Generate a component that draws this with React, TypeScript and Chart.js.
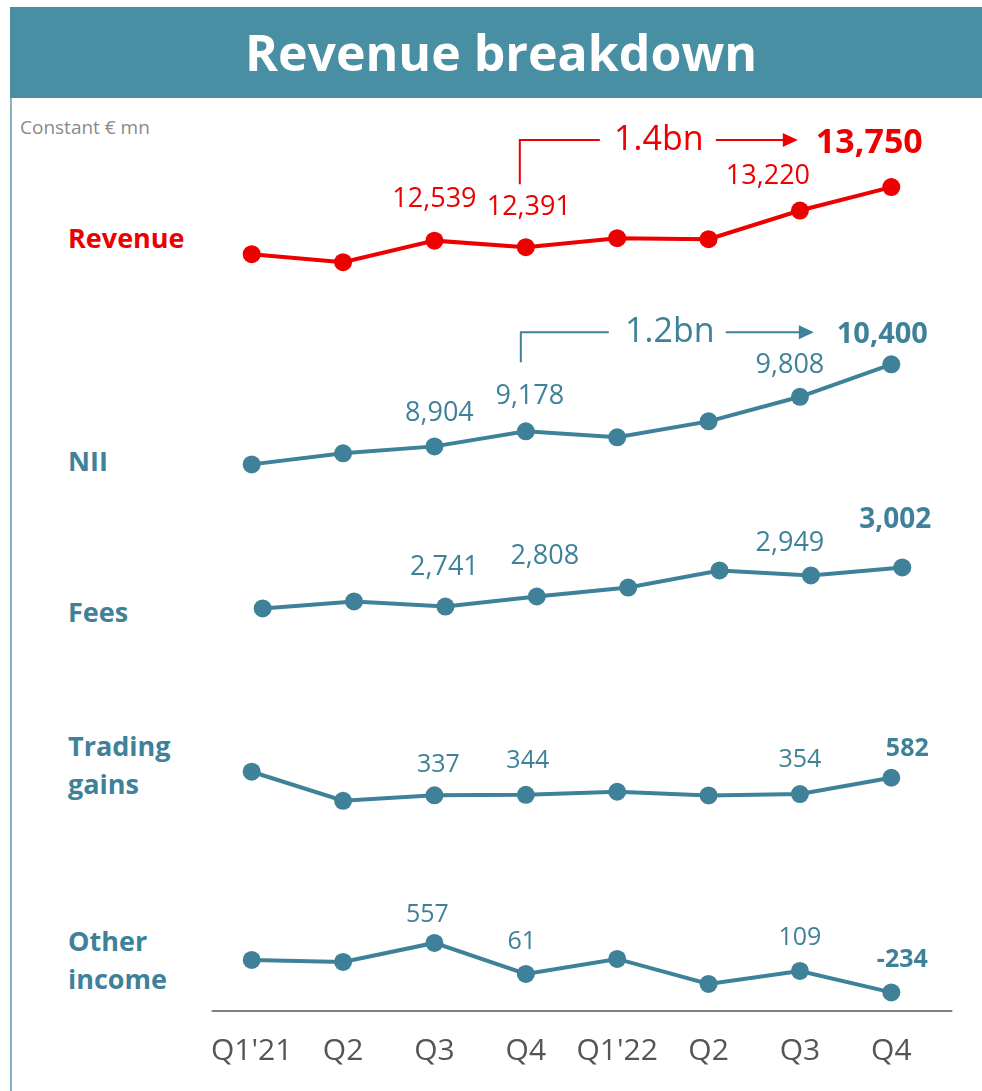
import React, { useEffect, useRef } from "react";
import { Chart, registerables } from "chart.js";

Chart.register(...registerables);

const quarters = ["Q1'21", "Q2", "Q3", "Q4", "Q1'22", "Q2", "Q3", "Q4"];
const revenue = [12232, 12051, 12539, 12391, 12595, 12572, 13220, 13750];
const nii = [8576, 8777, 8904, 9178, 9069, 9360, 9808, 10400];
const fees = [2728, 2775, 2741, 2808, 2868, 2982, 2949, 3002];
const tradingGains = [666, 260, 337, 344, 386, 335, 354, 582];
const otherIncome = [285, 253, 557, 61, 301, -99, 109, -234];
const labelledPoints = [2, 3, 6, 7];
const revenueGrowth = "1.4bn";
const niiGrowth = "1.2bn";

const RED = "#EC0000";
const TEAL = "#3E8199";
const HEADER = "#488FA4";
const FONT = "'Open Sans', 'Noto Sans', sans-serif";

const fmt = (v: number) => v.toLocaleString("en-US");

type LabelCfg = {
  ds: number;
  color: string;
  offsets: number[][];
  size: number;
  boldSize: number;
};

const labelCfgs: LabelCfg[] = [
  { ds: 0, color: RED, offsets: [[0, -41], [3, -40], [-32, -34], [-22, -44]], size: 27, boldSize: 34 },
  { ds: 1, color: TEAL, offsets: [[5, -33], [4, -35], [-10, -31], [-9, -30]], size: 27, boldSize: 29 },
  { ds: 2, color: TEAL, offsets: [[-1, -39], [8, -40], [-21, -32], [-7, -47]], size: 27, boldSize: 28 },
  { ds: 3, color: TEAL, offsets: [[4, -30], [2, -34], [0, -34], [16, -29]], size: 25, boldSize: 25 },
  { ds: 4, color: TEAL, offsets: [[-7, -28], [-4, -32], [0, -33], [11, -33]], size: 25, boldSize: 25 },
];

const overlayPlugin = {
  id: "overlay",
  afterDatasetsDraw(chart: any) {
    const ctx = chart.ctx;
    ctx.save();
    ctx.textAlign = "center";
    ctx.textBaseline = "middle";
    for (const cfg of labelCfgs) {
      const meta = chart.getDatasetMeta(cfg.ds);
      const data = chart.data.datasets[cfg.ds].data as any[];
      labelledPoints.forEach((idx, k) => {
        const el = meta.data[idx];
        const raw = data[idx];
        const v = typeof raw === "number" ? raw : raw.y;
        const bold = k === labelledPoints.length - 1;
        ctx.font = `${bold ? "bold " : ""}${bold ? cfg.boldSize : cfg.size}px ${FONT}`;
        ctx.fillStyle = cfg.color;
        ctx.fillText(fmt(v), el.x + cfg.offsets[k][0], el.y + cfg.offsets[k][1]);
      });
    }

    const bracket = (ds: number, color: string, text: string, dx: number, vBottom: number, yOff: number, hEnd: number, tx: number, aStart: number, aEnd: number) => {
      const meta = chart.getDatasetMeta(ds);
      const p3 = meta.data[3];
      const p7 = meta.data[7];
      const x0 = p3.x + dx;
      const yTop = p7.y + yOff;
      ctx.strokeStyle = color;
      ctx.fillStyle = color;
      ctx.lineWidth = 2;
      ctx.beginPath();
      ctx.moveTo(x0, p3.y + vBottom);
      ctx.lineTo(x0, yTop);
      ctx.lineTo(x0 + hEnd, yTop);
      ctx.stroke();
      ctx.font = `34px ${FONT}`;
      ctx.fillText(text, x0 + tx, yTop);
      ctx.beginPath();
      ctx.moveTo(x0 + aStart, yTop);
      ctx.lineTo(x0 + aEnd - 12, yTop);
      ctx.stroke();
      ctx.beginPath();
      ctx.moveTo(x0 + aEnd, yTop);
      ctx.lineTo(x0 + aEnd - 15, yTop - 7);
      ctx.lineTo(x0 + aEnd - 15, yTop + 7);
      ctx.closePath();
      ctx.fill();
    };
    bracket(0, RED, revenueGrowth, -6, -63, -47, 80, 139, 196, 278);
    bracket(1, TEAL, niiGrowth, -5, -69, -32, 88, 149, 205, 293);

    // baseline axis
    const xs = chart.scales.x;
    const y = chart.chartArea.bottom;
    ctx.strokeStyle = "#808080";
    ctx.lineWidth = 2;
    ctx.beginPath();
    ctx.moveTo(xs.getPixelForValue(0) - 40, y);
    ctx.lineTo(xs.getPixelForValue(7) + 61, y);
    ctx.stroke();
    ctx.restore();
  },
};

export default function App() {
  const ref = useRef<HTMLCanvasElement>(null);

  useEffect(() => {
    if (!ref.current) return;
    const line = (label: string, data: any[], color: string, yAxisID: string, xAxisID = "x") => ({
      label,
      data,
      borderColor: color,
      backgroundColor: color,
      pointBackgroundColor: color,
      pointBorderColor: color,
      borderWidth: 4,
      pointRadius: 9,
      pointBorderWidth: 0,
      tension: 0,
      yAxisID,
      xAxisID,
    });
    const hiddenY = (min: number, max: number) => ({ type: "linear" as const, display: false, min, max });
    const chart = new Chart(ref.current, {
      type: "line",
      data: {
        labels: quarters,
        datasets: [
          line("Revenue", revenue, RED, "yR"),
          line("NII", nii, TEAL, "yN"),
          line("Fees", fees.map((v, i) => ({ x: i, y: v })), TEAL, "yF", "xF"),
          line("Trading gains", tradingGains, TEAL, "yT"),
          line("Other income", otherIncome, TEAL, "yO"),
        ],
      },
      options: {
        animation: false,
        responsive: false,
        devicePixelRatio: 1,
        layout: { padding: { left: 206, right: 45, top: 100, bottom: 0 } },
        plugins: { legend: { display: false }, tooltip: { enabled: false } },
        scales: {
          x: {
            type: "category",
            offset: true,
            grid: { display: false, drawTicks: false },
            border: { display: false },
            ticks: { font: { family: FONT, size: 30 }, color: "#555555", padding: 22, maxRotation: 0 },
          },
          xF: { type: "linear", display: false, min: -0.62, max: 7.38 },
          yR: hiddenY(-4891, 15721),
          yN: hiddenY(-1383, 15215),
          yF: hiddenY(38, 6126),
          yT: hiddenY(-2680, 10060),
          yO: hiddenY(-531, 14029),
        },
      },
      plugins: [overlayPlugin],
    });
    return () => chart.destroy();
  }, []);

  const rowLabel = (lines: string[], color: string, cy: number) => (
    <div
      style={{
        position: "absolute",
        left: 68,
        top: cy - (lines.length * 38) / 2,
        color,
        fontFamily: FONT,
        fontWeight: 700,
        fontSize: 27,
        lineHeight: "38px",
      }}
    >
      {lines.map((l) => (
        <div key={l}>{l}</div>
      ))}
    </div>
  );

  return (
    <div style={{ position: "absolute", left: 0, top: 0, width: 982, height: 1091, background: "#fff", overflow: "hidden" }}>
      <div
        style={{
          position: "absolute",
          left: 10,
          top: 7,
          width: 972,
          height: 91,
          background: HEADER,
          color: "#fff",
          fontFamily: FONT,
          fontWeight: 700,
          fontSize: 50,
          lineHeight: "91px",
          textAlign: "center",
          paddingLeft: 10,
          boxSizing: "border-box",
        }}
      >
        Revenue breakdown
      </div>
      <div style={{ position: "absolute", left: 10, top: 98, width: 2, height: 993, background: "#86B4C2" }} />
      <div style={{ position: "absolute", left: 20, top: 114, fontFamily: FONT, fontSize: 19, color: "#8A8A8A", lineHeight: "26px" }}>
        Constant € mn
      </div>
      {rowLabel(["Revenue"], RED, 238)}
      {rowLabel(["NII"], TEAL, 461)}
      {rowLabel(["Fees"], TEAL, 612)}
      {rowLabel(["Trading", "gains"], TEAL, 765)}
      {rowLabel(["Other", "income"], TEAL, 960)}
      <canvas ref={ref} width={982} height={1091} style={{ position: "absolute", left: 0, top: 0, width: 982, height: 1091 }} />
    </div>
  );
}
